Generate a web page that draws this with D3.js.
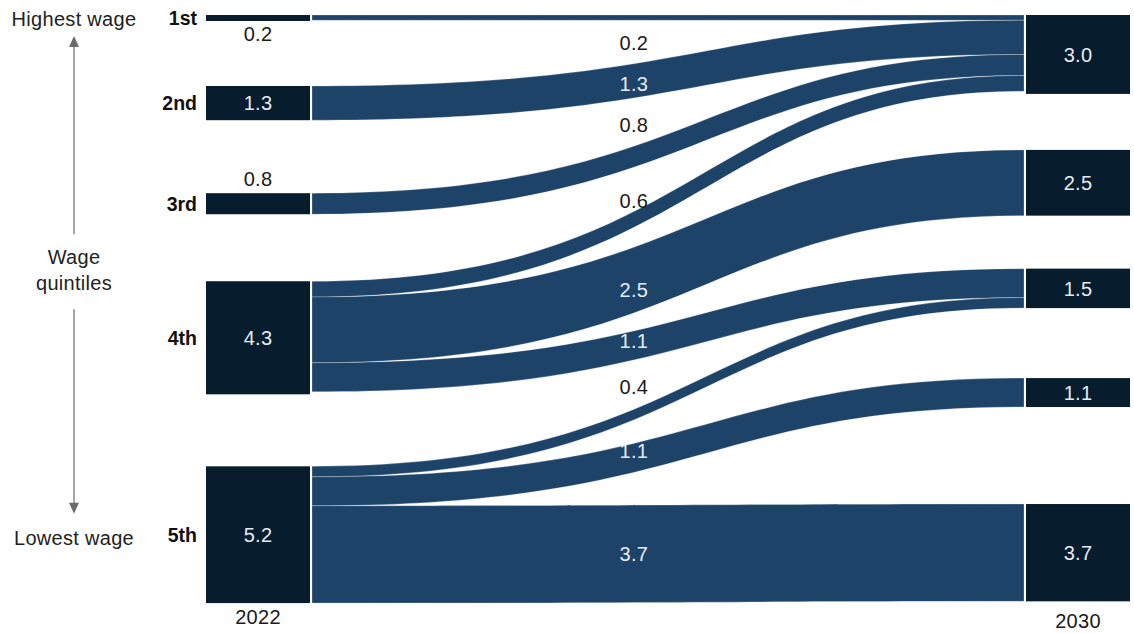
<!DOCTYPE html>
<html>
<head>
<meta charset="utf-8">
<script src="https://cdn.jsdelivr.net/npm/d3@7"></script>
<style>
  html, body { margin: 0; padding: 0; background: #ffffff; }
  svg { display: block; font-family: "Liberation Sans", Arial, sans-serif; }
</style>
</head>
<body>
<svg id="chart" width="1134" height="633"></svg>
<script>
// ---------------- DATA ----------------
const years = ["2022", "2030"];
const quintiles = ["1st", "2nd", "3rd", "4th", "5th"];
const values2022 = [0.2, 1.3, 0.8, 4.3, 5.2];
const values2030 = [3.0, 2.5, 1.5, 1.1, 3.7];
const flowSource = [0, 1, 2, 3, 3, 3, 4, 4, 4];
const flowTarget = [0, 0, 0, 0, 1, 2, 2, 3, 4];
const flowValue  = [0.2, 1.3, 0.8, 0.6, 2.5, 1.1, 0.4, 1.1, 3.7];
const axisTop = "Highest wage";
const axisBottom = "Lowest wage";
const axisTitle = ["Wage", "quintiles"];

// ---------------- LAYOUT / STYLE ----------------
const layout = {
  top: 15, unitPx: 26.3,
  leftGaps: [65, 73, 67, 72],
  rightGaps: [56, 53, 70, 97],
  xStart: 206, xEnd: 1130, nodeW: 104, linkGap: 2,
  controlFrac: 0.55, labelXFrac: 0.452,
  // vertical offsets of the flow labels relative to the flow's centre line
  flowLabelDy: [25, 3, -32, -19, 10, -5, -28, -7, 0],
  minNodeH: 6
};
const colors = { node: "#071c2c", link: "#1d4369", textDark: "#1a1a1a", textLight: "#e6ecf2", axis: "#6b6b6b" };
const fs = 20;

const svg = d3.select("#chart");
const h = d3.scaleLinear().domain([0, 1]).range([0, layout.unitPx]);
const xCol = d3.scalePoint().domain(years).range([layout.xStart, layout.xEnd - layout.nodeW]);

function stackNodes(vals, gaps) {
  let y = layout.top;
  return vals.map((v, i) => {
    const hh = Math.max(h(v), layout.minNodeH);
    const n = { value: v, y0: y, y1: y + hh, h: hh, i };
    y += hh + (gaps[i] || 0);
    return n;
  });
}
const leftNodes = stackNodes(values2022, layout.leftGaps).map(n => ({ ...n, x0: xCol(years[0]) }));
const rightNodes = stackNodes(values2030, layout.rightGaps).map(n => ({ ...n, x0: xCol(years[1]) }));

// links
const links = flowValue.map((v, i) => ({ value: v, s: flowSource[i], t: flowTarget[i], i, w: h(v) }));
const srcOff = leftNodes.map(n => n.y0);
const tgtOff = rightNodes.map(n => n.y0);
links.slice().sort((a, b) => a.s - b.s || a.t - b.t).forEach(l => { l.ys = srcOff[l.s]; srcOff[l.s] += l.w; });
links.slice().sort((a, b) => a.t - b.t || a.s - b.s).forEach(l => { l.yt = tgtOff[l.t]; tgtOff[l.t] += l.w; });

const lx0 = xCol(years[0]) + layout.nodeW + layout.linkGap;
const lx1 = xCol(years[1]) - layout.linkGap;
const xa = lx0 + layout.controlFrac * (lx1 - lx0);
const xb = xa;

function linkPath(l) {
  const p = d3.path();
  p.moveTo(lx0, l.ys);
  p.bezierCurveTo(xa, l.ys, xb, l.yt, lx1, l.yt);
  p.lineTo(lx1, l.yt + l.w);
  p.bezierCurveTo(xb, l.yt + l.w, xa, l.ys + l.w, lx0, l.ys + l.w);
  p.closePath();
  return p.toString();
}
function bez(t, a, b, c, d) {
  const u = 1 - t;
  return u * u * u * a + 3 * u * u * t * b + 3 * u * t * t * c + t * t * t * d;
}
function centerAt(l, x) {
  let lo = 0, hi = 1;
  for (let k = 0; k < 40; k++) {
    const m = (lo + hi) / 2;
    if (bez(m, lx0, xa, xb, lx1) < x) lo = m; else hi = m;
  }
  const t = (lo + hi) / 2;
  const yc0 = l.ys + l.w / 2, yc1 = l.yt + l.w / 2;
  return bez(t, yc0, yc0, yc1, yc1);
}

svg.append("g").selectAll("path").data(links).join("path")
  .attr("d", linkPath)
  .attr("fill", colors.link)
  .attr("stroke", "#ffffff").attr("stroke-width", 0.5).attr("stroke-opacity", 0.5);

// nodes
const allNodes = leftNodes.concat(rightNodes);
svg.append("g").selectAll("rect").data(allNodes).join("rect")
  .attr("x", d => d.x0).attr("y", d => d.y0)
  .attr("width", layout.nodeW).attr("height", d => d.h)
  .attr("fill", colors.node);

// node value labels
function nodeLabel(n, side) {
  const cx = n.x0 + layout.nodeW / 2;
  let y, fill;
  if (n.h >= 28) { y = (n.y0 + n.y1) / 2; fill = colors.textLight; }
  else if (side === "left" && n.i === 0) { y = n.y1 + 13; fill = colors.textDark; }
  else { y = n.y0 - 14; fill = colors.textDark; }
  svg.append("text").attr("x", cx).attr("y", y).attr("dy", "0.36em")
    .attr("text-anchor", "middle").attr("font-size", fs).attr("letter-spacing", 0.3)
    .attr("fill", fill).text(d3.format(".1f")(n.value));
}
leftNodes.forEach(n => nodeLabel(n, "left"));
rightNodes.forEach(n => nodeLabel(n, "right"));

// flow labels
const labelX = lx0 + layout.labelXFrac * (lx1 - lx0);
links.forEach(l => {
  const inside = l.w >= 28;
  svg.append("text").attr("x", labelX).attr("y", centerAt(l, labelX) + layout.flowLabelDy[l.i])
    .attr("dy", "0.36em").attr("text-anchor", "middle").attr("font-size", fs).attr("letter-spacing", 0.3)
    .attr("fill", inside ? colors.textLight : colors.textDark)
    .text(d3.format(".1f")(l.value));
});

// quintile labels
svg.append("g").selectAll("text").data(leftNodes).join("text")
  .attr("x", xCol(years[0]) - 9).attr("y", d => (d.y0 + d.y1) / 2).attr("dy", "0.36em")
  .attr("text-anchor", "end").attr("font-size", 19.5).attr("font-weight", "bold").attr("fill", "#111")
  .text((d, i) => quintiles[i]);

// year labels
svg.append("g").selectAll("text").data(years).join("text")
  .attr("x", d => xCol(d) + layout.nodeW / 2)
  .attr("y", (d, i) => (i === 0 ? leftNodes : rightNodes)[4].y1 + (i === 0 ? 14 : 19))
  .attr("dy", "0.36em").attr("text-anchor", "middle").attr("font-size", fs).attr("letter-spacing", 0.3)
  .attr("fill", colors.textDark).text(d => d);

// left axis annotation
const ax = 74;
const topY = (leftNodes[0].y0 + leftNodes[0].y1) / 2;
const botY = (leftNodes[4].y0 + leftNodes[4].y1) / 2;
svg.append("text").attr("x", ax).attr("y", topY + 1).attr("dy", "0.36em").attr("text-anchor", "middle")
  .attr("font-size", fs).attr("letter-spacing", 0.3).attr("fill", "#222").text(axisTop);
svg.append("text").attr("x", ax).attr("y", botY + 3).attr("dy", "0.36em").attr("text-anchor", "middle")
  .attr("font-size", fs).attr("letter-spacing", 0.3).attr("fill", "#222").text(axisBottom);
const midY = (topY + botY) / 2 - 1;
axisTitle.forEach((t, i) => {
  svg.append("text").attr("x", ax).attr("y", midY - 19 + i * 26).attr("dy", "0.36em").attr("text-anchor", "middle")
    .attr("font-size", fs).attr("letter-spacing", 0.3).attr("fill", "#222").text(t);
});
const arrowG = svg.append("g").attr("stroke", colors.axis).attr("fill", colors.axis);
arrowG.append("line").attr("x1", ax).attr("x2", ax).attr("y1", topY + 26).attr("y2", midY - 41).attr("stroke-width", 1.2);
arrowG.append("path").attr("d", `M${ax},${topY + 18} L${ax - 5},${topY + 29} L${ax + 5},${topY + 29} Z`).attr("stroke", "none");
arrowG.append("line").attr("x1", ax).attr("x2", ax).attr("y1", midY + 34).attr("y2", botY - 30).attr("stroke-width", 1.2);
arrowG.append("path").attr("d", `M${ax},${botY - 21} L${ax - 5},${botY - 32} L${ax + 5},${botY - 32} Z`).attr("stroke", "none");
</script>
</body>
</html>
